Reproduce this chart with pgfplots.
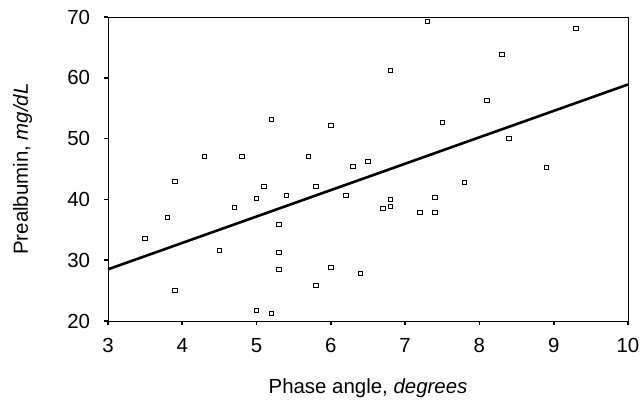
\documentclass[border=0pt]{standalone}
\usepackage{fontspec}
\setmainfont{Liberation Sans}
\usepackage{pgfplots}
\pgfplotsset{compat=1.18}
\newcommand{\chartfont}{\fontsize{20.5}{24}\selectfont}
\begin{document}
\begin{tikzpicture}
  \useasboundingbox (-108bp,-90bp) rectangle (535bp,321bp);
  \begin{axis}[
      at={(0,0)}, anchor=south west,
      scale only axis, width=520bp, height=304bp,
      xmin=3, xmax=10, ymin=20, ymax=70,
      xtick={3,...,10}, ytick={20,30,...,70},
      xtick pos=lower, ytick pos=left,
      tick align=outside, major tick length=3.5bp,
      tick style={line width=1.6bp, black},
      axis line style={line width=0.9bp},
      tick label style={font=\chartfont},
      label style={font=\chartfont},
      /pgf/number format/assume math mode=true,
      yticklabel style={xshift=-11bp},
      xticklabel style={yshift=-10bp},
      xlabel={Phase angle, \textit{degrees}},
      ylabel={Prealbumin, \textit{mg/dL}},
      xlabel style={at={(axis description cs:0.5,-0.240)}, anchor=base},
      ylabel style={at={(axis description cs:-0.154,0.5)}, anchor=base},
      clip=false,
    ]
    % data points
    \addplot[only marks, mark=square, mark size=2bp, mark options={line width=0.9bp, black, xscale=1.15}]
      coordinates {
        (3.5,33.6) (3.8,37.1) (3.9,42.9) (3.9,25.0) (4.3,47.1) (4.5,31.6)
        (4.7,38.7) (4.8,47.1) (5.0,40.2) (5.0,21.7) (5.1,42.2) (5.2,53.1)
        (5.2,21.3) (5.3,35.9) (5.3,31.3) (5.3,28.4) (5.4,40.6) (5.7,47.0)
        (5.8,42.2) (5.8,25.8) (6.0,52.1) (6.0,28.8) (6.2,40.6) (6.3,45.5)
        (6.4,27.8) (6.5,46.2) (6.7,38.5) (6.8,61.2) (6.8,40.0) (6.8,38.9)
        (7.2,37.9) (7.3,69.3) (7.4,40.3) (7.4,37.9) (7.5,52.7) (7.8,42.8)
        (8.1,56.3) (8.3,63.9) (8.4,50.0) (8.9,45.2) (9.3,68.1)
      };
    % regression line
    \addplot[black, line width=2.6bp] coordinates {(3,28.5) (10,58.9)};
  \end{axis}
\end{tikzpicture}
\end{document}
